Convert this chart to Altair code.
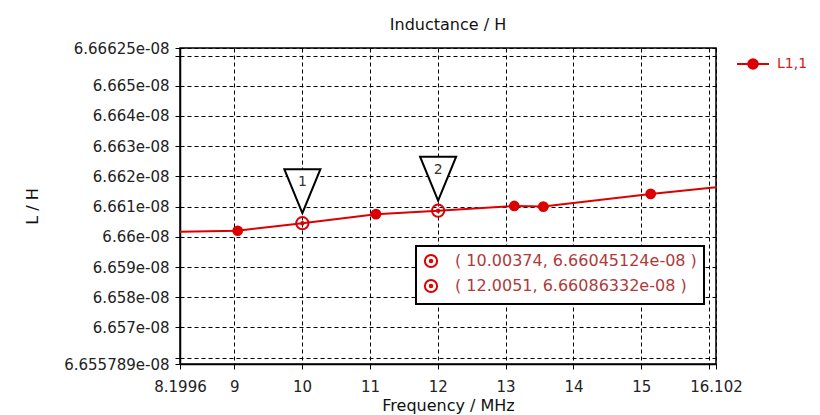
import json
import altair as alt
import pandas as pd

# ---- data ----
freq = [8.1996, 9.050, 10.00374, 11.089, 12.0051, 13.128, 13.556, 15.139, 16.102]
induct = [6.66017e-08, 6.66020e-08, 6.66045124e-08, 6.66075e-08, 6.66086332e-08,
          6.66102e-08, 6.66100e-08, 6.66142e-08, 6.66164e-08]
dot_shown = [False, True, False, True, False, True, True, True, False]
series_name = "L1,1"

marker_id = ["1", "2"]
marker_freq = [10.00374, 12.0051]
marker_ind = [6.66045124e-08, 6.66086332e-08]

xtick_vals = [8.1996, 9, 10, 11, 12, 13, 14, 15, 16, 16.102]
xtick_text = ["8.1996", "9", "10", "11", "12", "13", "14", "15", "", "16.102"]
ytick_vals = [6.655789e-08, 6.656e-08, 6.657e-08, 6.658e-08, 6.659e-08, 6.66e-08,
              6.661e-08, 6.662e-08, 6.663e-08, 6.664e-08, 6.665e-08, 6.666e-08, 6.66625e-08]
ytick_text = ["6.655789e-08", "", "6.657e-08", "6.658e-08", "6.659e-08", "6.66e-08",
              "6.661e-08", "6.662e-08", "6.663e-08", "6.664e-08", "6.665e-08", "", "6.66625e-08"]

x_domain = [8.1996, 16.102]
y_domain = [6.655789e-08, 6.66625e-08]

RED = "#dd0000"
FONT = "DejaVu Sans"

df = pd.DataFrame({"freq": freq, "L": induct, "dot": dot_shown, "series": series_name})
mk = pd.DataFrame({"id": marker_id, "freq": marker_freq, "L": marker_ind})
mk["label"] = [f"( {f}, {l:.8e} )" for f, l in zip(marker_freq, marker_ind)]

xkeys = [round(v * 1e4) for v in xtick_vals]
ykeys = [round(v * 1e14) for v in ytick_vals]
x_expr = f"{json.dumps(xtick_text)}[indexof({json.dumps(xkeys)}, round(datum.value*1e4))]"
y_expr = f"{json.dumps(ytick_text)}[indexof({json.dumps(ykeys)}, round(datum.value*1e14))]"

xs = alt.Scale(domain=x_domain, nice=False, zero=False)
ys = alt.Scale(domain=y_domain, nice=False, zero=False)

X = alt.X("freq:Q", scale=xs,
          axis=alt.Axis(values=xtick_vals, labelExpr=x_expr, title="Frequency / MHz",
                        titlePadding=3, labelPadding=10, labelOverlap=False, labelFlush=False))
Y = alt.Y("L:Q", scale=ys,
          axis=alt.Axis(values=ytick_vals, labelExpr=y_expr, title="L / H",
                        titleX=-140, titleY=158, labelPadding=6, labelOverlap=False,
                        labelFlush=False))

ring_path = ("M -1 0 A 1 1 0 1 0 1 0 A 1 1 0 1 0 -1 0 Z "
             "M -0.2 0 A 0.2 0.2 0 1 0 0.2 0 A 0.2 0.2 0 1 0 -0.2 0 Z")
legend_line_path = ("M -1 0 L 1 0 "
                    "M -0.3 0 A 0.3 0.3 0 1 0 0.3 0 A 0.3 0.3 0 1 0 -0.3 0 "
                    "M -0.19 0 A 0.19 0.19 0 1 0 0.19 0 A 0.19 0.19 0 1 0 -0.19 0 "
                    "M -0.08 0 A 0.08 0.08 0 1 0 0.08 0 A 0.08 0.08 0 1 0 -0.08 0")
tri_path = "M -0.82 -1 L 0.82 -1 L 0 1 Z"

line = alt.Chart(df).mark_line(strokeWidth=2).encode(
    x=X, y=Y,
    color=alt.Color("series:N", scale=alt.Scale(domain=[series_name], range=[RED]),
                    legend=alt.Legend(orient="none", legendX=556, legendY=-1, title=None,
                                      padding=0, symbolType=legend_line_path, symbolSize=1024,
                                      symbolStrokeWidth=2, symbolStrokeColor=RED,
                                      symbolFillColor=RED, labelOffset=7,
                                      labelFontSize=14, labelFont=FONT, labelColor="#d02020")),
)

dots = alt.Chart(df).transform_filter("datum.dot").mark_point(
    filled=True, size=115, color=RED, opacity=1).encode(x=X, y=Y)

rings = alt.Chart(mk).mark_point(color=RED, strokeWidth=2, size=150, opacity=1).encode(
    x=X, y=Y,
    shape=alt.Shape("label:N", scale=alt.Scale(domain=list(mk["label"]), range=[ring_path, ring_path]),
                    legend=alt.Legend(orient="none", legendX=236, legendY=198, title=None,
                                      padding=7, fillColor="white", strokeColor="black",
                                      symbolSize=150, symbolStrokeWidth=2, symbolStrokeColor=RED,
                                      symbolOpacity=1,
                                      labelOffset=16, rowPadding=3, labelLimit=400,
                                      labelFontSize=16, labelFont=FONT, labelColor="#b03a3a")),
)

tris = alt.Chart(mk).mark_point(shape=tri_path, size=1936, fill="white", stroke="black",
                                strokeWidth=2, opacity=1, fillOpacity=1, yOffset=-32).encode(x=X, y=Y)
nums = alt.Chart(mk).mark_text(dy=-41, fontSize=14, font=FONT, color="#333").encode(
    x=X, y=Y, text="id:N")

chart = alt.layer(line, dots, tris, nums, rings).properties(
    width=536, height=316,
    title=alt.TitleParams("Inductance / H", fontSize=16, font=FONT, fontWeight="normal",
                          color="#111", offset=8),
    autosize=alt.AutoSizeParams(type="none"),
    padding={"left": 172, "top": 40, "right": 96, "bottom": 51},
).configure_view(stroke="black", strokeWidth=1.5).configure_axis(
    labelFont=FONT, labelFontSize=15, labelColor="#222", titleFont=FONT, titleFontSize=16,
    titleFontWeight="normal", titleColor="#111", domainColor="black", domainWidth=1.5,
    tickColor="black", tickSize=5, gridColor="black", gridDash=[4, 3], gridOpacity=1,
    gridWidth=1,
).configure_legend(strokeWidth=2)

chart.save("out.html", embed_options={"renderer": "svg", "actions": False})
